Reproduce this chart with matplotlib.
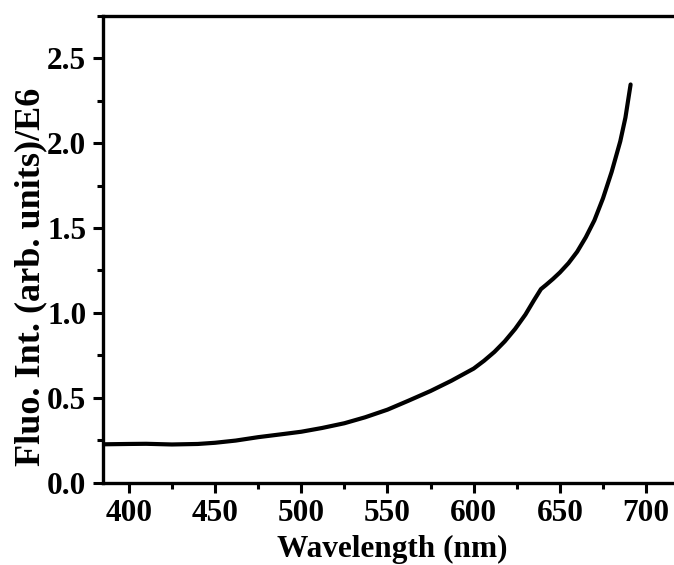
import numpy as np
from matplotlib import pyplot as plt
from matplotlib.ticker import MultipleLocator

# spectrum
wavelength = [385, 400, 410, 425, 440, 450, 462, 475, 490, 500, 512, 525, 537, 550, 562, 575,
              587, 600, 606, 612, 618, 624, 630, 635, 639, 642, 646, 650, 655, 660, 665, 670,
              675, 680, 685, 688, 691]
intensity = [0.226, 0.228, 0.229, 0.225, 0.228, 0.235, 0.248, 0.268, 0.287, 0.300, 0.322, 0.350,
             0.385, 0.430, 0.482, 0.540, 0.600, 0.672, 0.718, 0.770, 0.832, 0.905, 0.990, 1.075,
             1.140, 1.165, 1.200, 1.238, 1.293, 1.360, 1.445, 1.545, 1.675, 1.830, 2.010, 2.150,
             2.345]

plt.rcParams['font.family'] = ['Liberation Serif', 'DejaVu Serif']
plt.rcParams['font.weight'] = 'bold'

fig = plt.figure(figsize=(6.74, 5.65), dpi=100)
ax = fig.add_axes([0.1528, 0.1457, 0.857, 0.8265])

ax.plot(wavelength, intensity, color='black', lw=3, solid_capstyle='round', solid_joinstyle='round')

ax.set_xlim(385, 720)
ax.set_ylim(0, 2.75)
ax.xaxis.set_major_locator(MultipleLocator(50))
ax.xaxis.set_minor_locator(MultipleLocator(25))
ax.yaxis.set_major_locator(MultipleLocator(0.5))
ax.yaxis.set_minor_locator(MultipleLocator(0.25))
ax.yaxis.set_major_formatter(plt.FormatStrFormatter('%.1f'))

for s in ['left', 'bottom', 'top']:
    ax.spines[s].set_linewidth(2.4)
ax.spines['right'].set_visible(False)
ax.tick_params(which='major', direction='out', length=7, width=2.2, labelsize=22.5, pad=5)
ax.tick_params(which='minor', direction='out', length=4, width=2.2)

ax.set_xlabel('Wavelength (nm)', fontsize=22.5, fontweight='bold', labelpad=5)
ax.set_ylabel('Fluo. Int. (arb. units)/E6', fontsize=26, fontweight='bold')
ax.yaxis.set_label_coords(-0.097, 0.44)

fig.savefig('out.png', dpi=100)
